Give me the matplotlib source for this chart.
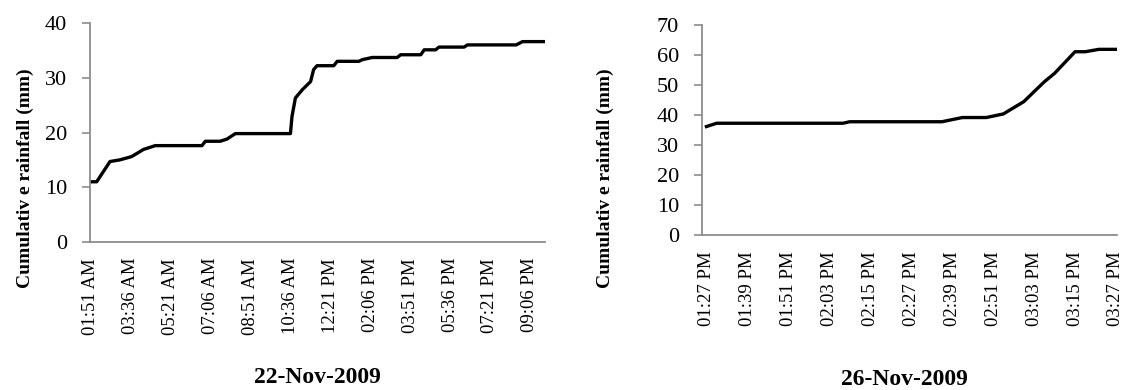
import matplotlib
matplotlib.use("Agg")
import matplotlib.pyplot as plt
from datetime import datetime

# 22-Nov-2009 (clock time 24h, cumulative rainfall mm)
t22 = ["01:51", "02:06", "02:41", "03:07", "03:38", "04:09", "04:40", "06:43",
       "06:52", "07:31", "07:49", "08:11", "10:36", "10:40", "10:49", "11:07",
       "11:29", "11:37", "11:46", "12:30", "12:39", "13:36", "13:45", "14:11",
       "15:17", "15:26", "16:19", "16:28", "16:58", "17:07", "18:13", "18:22",
       "20:30", "20:47", "21:49"]
r22 = [11.0, 11.0, 14.7, 15.0, 15.6, 16.9, 17.6, 17.6,
       18.4, 18.4, 18.8, 19.8, 19.8, 22.9, 26.3, 27.8,
       29.3, 31.5, 32.2, 32.2, 33.0, 33.0, 33.3, 33.7,
       33.7, 34.2, 34.2, 35.1, 35.1, 35.6, 35.6, 36.0,
       36.0, 36.6, 36.6]
ticks22 = ["01:51 AM", "03:36 AM", "05:21 AM", "07:06 AM", "08:51 AM", "10:36 AM",
           "12:21 PM", "02:06 PM", "03:51 PM", "05:36 PM", "07:21 PM", "09:06 PM"]

# 26-Nov-2009
t26 = ["13:27", "13:30", "14:07", "14:09", "14:36", "14:42", "14:49", "14:54",
       "15:00", "15:06", "15:09", "15:15", "15:18", "15:22", "15:27"]
r26 = [36.2, 37.3, 37.3, 37.8, 37.8, 39.2, 39.2, 40.4,
       44.5, 51.1, 53.9, 61.1, 61.1, 61.9, 61.9]
ticks26 = ["01:27 PM", "01:39 PM", "01:51 PM", "02:03 PM", "02:15 PM", "02:27 PM",
           "02:39 PM", "02:51 PM", "03:03 PM", "03:15 PM", "03:27 PM"]


def mins(t):
    h, m = t.split(":")
    return int(h) * 60 + int(m)


def tmins(s):
    d = datetime.strptime(s, "%I:%M %p")
    return d.hour * 60 + d.minute


plt.rcParams['font.family'] = ['Liberation Serif', 'DejaVu Serif']

fig = plt.figure(figsize=(11.3, 3.9), dpi=100)
W, H = 1130, 390
ax1 = fig.add_axes([90 / W, 1 - 242 / H, (545 - 90) / W, (242 - 23) / H])
ax2 = fig.add_axes([702 / W, 1 - 235.3 / H, (1117 - 702) / W, (235.3 - 25) / H])

grey = "#8c8c8c"


def style(ax, ticks, lab, ylim, ystep):
    ax.set_ylim(*ylim)
    ax.set_yticks(range(ylim[0], ylim[1] + 1, ystep))
    ax.set_xticks([tmins(s) for s in ticks])
    ax.set_xticklabels(ticks, rotation=90, fontsize=13.5)
    ax.tick_params(axis="x", length=0, pad=11.5)
    ax.tick_params(axis="y", length=5.5, width=1.2, color=grey, labelsize=16, pad=11)
    for s in ["top", "right"]:
        ax.spines[s].set_visible(False)
    for s in ["left", "bottom"]:
        ax.spines[s].set_color(grey)
        ax.spines[s].set_linewidth(1.3)
    ax.set_ylabel("Cumulativ e rainfall (mm)", fontsize=14, fontweight="bold")
    ax.set_xlabel(lab, fontsize=17, fontweight="bold", va="center")


ax1.plot([mins(t) for t in t22], r22, color="black", lw=2.4)
ax1.set_xlim(111 - 2.6, 111 + 1195)
style(ax1, ticks22, "22-Nov-2009", (0, 40), 10)
ax1.yaxis.set_label_coords(-0.123, 0.29)
ax1.xaxis.set_label_coords(0.5, -0.621)

ax2.plot([mins(t) for t in t26], r26, color="black", lw=2.4)
ax2.set_xlim(807 - 1.3, 807 + 120.3)
style(ax2, ticks26, "26-Nov-2009", (0, 70), 10)
ax2.yaxis.set_label_coords(-0.213, 0.27)
ax2.xaxis.set_label_coords(0.488, -0.688)

fig.savefig("out.png", dpi=100)
